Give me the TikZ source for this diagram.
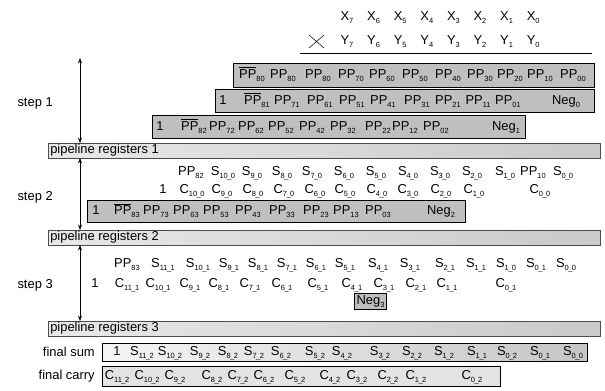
\documentclass[tikz,border=0pt]{standalone}
\usepackage{fontspec}
\setmainfont{Liberation Sans}
\usetikzlibrary{arrows.meta}

\newcommand{\ix}[1]{\raisebox{-0.45ex}{\fontsize{5.6}{6}\selectfont #1}}
\newcommand{\us}{\kern-.4pt\_\kern-.4pt}
\newcommand{\PP}[1]{PP\ix{#1}}
\newcommand{\PPn}[1]{$\overline{\hbox{PP}}$\ix{#1}}
\newcommand{\Sv}[2]{S\ix{#1\us#2}}
\newcommand{\Cv}[2]{C\ix{#1\us#2}}
\newcommand{\Neg}[1]{Neg\ix{#1}}

\begin{document}
\begin{tikzpicture}[x=0.75pt, y=-0.75pt, font=\fontsize{9.7}{11}\selectfont,
    itm/.style={inner sep=0pt, anchor=mid},
    ppbox/.style={draw, fill=gray!50},
    regbar/.style={draw=gray!60!black, left color=gray!18, right color=gray!42},
    dimline/.style={{Stealth[length=4pt,width=3pt]}-{Stealth[length=4pt,width=3pt]}, thin}]
  \useasboundingbox (0,0) rectangle (605,390);

  % Operands
  \foreach \n [count=\i from 0] in {7,...,0} {
    \node[itm] (x\n) at (347+26.6*\i,17) {X\ix{\n}};
    \node[itm] (y\n) at (347+26.6*\i,41) {Y\ix{\n}};
  }
  \draw[thin] (309,35) -- (324,48) (309,48) -- (324,35);
  \draw (300,53) -- (592,53);

  % Step 1: partial product rows
  \draw[ppbox] (233,63) rectangle (594,87);
  \foreach \x/\t [count=\i] in {252/{\PPn{80}},283/{\PP{80}},318/{\PP{80}},351/{\PP{70}},
      382/{\PP{60}},415/{\PP{50}},448/{\PP{40}},480/{\PP{30}},510/{\PP{20}},540/{\PP{10}},573/{\PP{00}}}
    \node[itm] (ra\i) at (\x,75) {\t};
  \draw[ppbox] (215,89) rectangle (594,112);
  \foreach \x/\t [count=\i] in {223/1,257/{\PPn{81}},287/{\PP{71}},320/{\PP{61}},352/{\PP{51}},
      383/{\PP{41}},417/{\PP{31}},448/{\PP{21}},478/{\PP{11}},508/{\PP{01}},566/{\Neg{0}}}
    \node[itm] (rb\i) at (\x,100.5) {\t};
  \draw[ppbox] (152,115) rectangle (525,138);
  \foreach \x/\t [count=\i] in {160/1,194/{\PPn{82}},222/{\PP{72}},251/{\PP{62}},281/{\PP{52}},
      312/{\PP{42}},343/{\PP{32}},378/{\PP{22}},405/{\PP{12}},436/{\PP{02}},506/{\Neg{1}}}
    \node[itm] (rc\i) at (\x,126.5) {\t};

  % Pipeline registers
  \draw[regbar] (48,143) rectangle (600,158);
  \node[itm, anchor=west] (reg1) at (50,150.5) {pipeline registers 1};
  \draw[regbar] (48,230) rectangle (600,245);
  \node[itm, anchor=west] (reg2) at (50,237.5) {pipeline registers 2};
  \draw[regbar] (48,321) rectangle (600,336);
  \node[itm, anchor=west] (reg3) at (50,328.5) {pipeline registers 3};

  % Step 2
  \foreach \x/\t [count=\i] in {191/{\PP{82}},223/{\Sv{10}{0}},252/{\Sv{9}{0}},282/{\Sv{8}{0}},
      312/{\Sv{7}{0}},344/{\Sv{6}{0}},376/{\Sv{5}{0}},408/{\Sv{4}{0}},440/{\Sv{3}{0}},
      472/{\Sv{2}{0}},505/{\Sv{1}{0}},533/{\PP{10}},563/{\Sv{0}{0}}}
    \node[itm] (sa\i) at (\x,172) {\t};
  \foreach \x/\t [count=\i] in {163/1,192/{\Cv{10}{0}},222/{\Cv{9}{0}},253/{\Cv{8}{0}},
      284/{\Cv{7}{0}},315/{\Cv{6}{0}},345/{\Cv{5}{0}},377/{\Cv{4}{0}},408/{\Cv{3}{0}},
      441/{\Cv{2}{0}},474/{\Cv{1}{0}},540/{\Cv{0}{0}}}
    \node[itm] (ca\i) at (\x,190) {\t};
  \draw[ppbox] (87,200) rectangle (465,222);
  \foreach \x/\t [count=\i] in {96/1,127/{\PPn{83}},156/{\PP{73}},186/{\PP{63}},216/{\PP{53}},
      248/{\PP{43}},282/{\PP{33}},316/{\PP{23}},346/{\PP{13}},378/{\PP{03}},441/{\Neg{2}}}
    \node[itm] (rd\i) at (\x,211) {\t};

  % Step 3
  \foreach \x/\t [count=\i] in {127/{\PP{83}},163/{\Sv{11}{1}},198/{\Sv{10}{1}},229/{\Sv{9}{1}},
      258/{\Sv{8}{1}},287/{\Sv{7}{1}},316/{\Sv{6}{1}},345/{\Sv{5}{1}},378/{\Sv{4}{1}},
      410/{\Sv{3}{1}},445/{\Sv{2}{1}},476/{\Sv{1}{1}},506/{\Sv{1}{0}},536/{\Sv{0}{1}},566/{\Sv{0}{0}}}
    \node[itm] (sb\i) at (\x,264) {\t};
  \foreach \x/\t [count=\i] in {95/1,127/{\Cv{11}{1}},158/{\Cv{10}{1}},190/{\Cv{9}{1}},
      219/{\Cv{8}{1}},250/{\Cv{7}{1}},282/{\Cv{6}{1}},318/{\Cv{5}{1}},352/{\Cv{4}{1}},
      384/{\Cv{3}{1}},416/{\Cv{2}{1}},447/{\Cv{1}{1}},506/{\Cv{0}{1}}}
    \node[itm] (cb\i) at (\x,284) {\t};
  \node[ppbox, inner sep=1.5pt] (neg3) at (370.5,301.5) {\Neg{3}};

  % Result
  \draw[draw, left color=gray!8, right color=gray!45] (102,343) rectangle (587,361);
  \foreach \x/\t [count=\i] in {117/1,142/{\Sv{11}{2}},170/{\Sv{10}{2}},200/{\Sv{9}{2}},
      228/{\Sv{8}{2}},254/{\Sv{7}{2}},281/{\Sv{6}{2}},315/{\Sv{5}{2}},342/{\Sv{4}{2}},
      380/{\Sv{3}{2}},412/{\Sv{2}{2}},444/{\Sv{1}{2}},477/{\Sv{1}{1}},507/{\Sv{0}{2}},
      540/{\Sv{0}{1}},573/{\Sv{0}{0}}}
    \node[itm] (fs\i) at (\x,352) {\t};
  \draw[draw, fill=gray!22] (102,366) rectangle (500,386);
  \foreach \x/\t [count=\i] in {117/{\Cv{11}{2}},147/{\Cv{10}{2}},175/{\Cv{9}{2}},212/{\Cv{8}{2}},
      238/{\Cv{7}{2}},264/{\Cv{6}{2}},295/{\Cv{5}{2}},330/{\Cv{4}{2}},357/{\Cv{3}{2}},
      388/{\Cv{2}{2}},416/{\Cv{1}{2}},472/{\Cv{0}{2}}}
    \node[itm] (fc\i) at (\x,376) {\t};

  % Steps
  \coordinate (s1a) at (80,58);  \coordinate (s1b) at (80,143);
  \coordinate (s2a) at (80,158); \coordinate (s2b) at (80,230);
  \coordinate (s3a) at (80,245); \coordinate (s3b) at (80,321);
  \draw[dimline] (s1a) -- (s1b);
  \draw[dimline] (s2a) -- (s2b);
  \draw[dimline] (s3a) -- (s3b);
  \node[itm, anchor=east] (st1) at (53,103) {step 1};
  \node[itm, anchor=east] (st2) at (53,197) {step 2};
  \node[itm, anchor=east] (st3) at (53,285) {step 3};
  \node[itm, anchor=east] (fsum) at (95,352) {final sum};
  \node[itm, anchor=east] (fcarry) at (95,376) {final carry};
\end{tikzpicture}
\end{document}
